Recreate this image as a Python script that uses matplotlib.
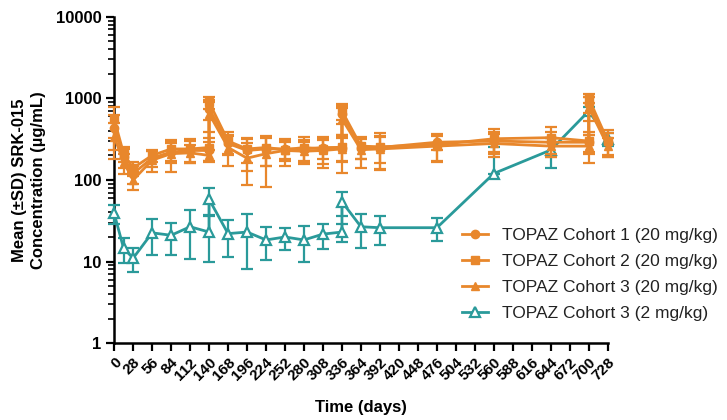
import matplotlib
matplotlib.use("Agg")
import matplotlib.pyplot as plt
import numpy as np
from matplotlib.lines import Line2D

plt.rcParams['font.family'] = ['Liberation Sans', 'DejaVu Sans']

# ---- data ----
days_orange = [0, 14, 28, 56, 84, 112, 140, 140, 168, 196, 224, 252, 280, 308,
               336, 336, 364, 392, 476, 560, 644, 700, 700, 728]
c1_mean = [430, 190, 120, 185, 220, 230, 230, 750, 280, 230, 240, 240, 240, 250,
           250, 650, 250, 250, 290, 300, 290, 290, 850, 290]
c1_sd = [200, 50, 30, 40, 60, 70, 60, 200, 80, 100, 90, 60, 70, 70,
         80, 160, 70, 90, 60, 90, 100, 70, 180, 90]
c2_mean = [560, 210, 140, 200, 240, 240, 250, 900, 300, 240, 250, 235, 250, 240,
           255, 700, 260, 255, 270, 320, 330, 300, 1000, 300]
c2_sd = [230, 45, 28, 35, 70, 80, 80, 150, 90, 80, 100, 85, 90, 100,
         90, 150, 80, 120, 100, 100, 120, 90, 130, 110]
c3_mean = [340, 165, 100, 175, 210, 215, 200, 650, 250, 185, 210, 230, 225, 230,
           240, 560, 235, 240, 260, 280, 260, 260, 780, 260]
c3_sd = [160, 45, 25, 50, 85, 50, 35, 260, 100, 98, 127, 60, 70, 75,
         118, 200, 95, 107, 92, 90, 70, 100, 250, 70]

days_teal = [0, 14, 28, 56, 84, 112, 140, 140, 168, 196, 224, 252, 280, 308,
             336, 336, 364, 392, 476, 560, 644, 700, 728]
t_mean = [39, 14.5, 11, 22.5, 21, 26.7, 23, 58, 22, 23, 18.4, 20, 18.4, 21.7,
          23, 54, 26.7, 26, 26, 120, 233, 700, 320]
t_sd = [10, 4.8, 3.5, 10.5, 9, 16, 13, 21, 10.5, 15, 8, 6, 8.5, 7.5,
        5.5, 18, 12, 10, 8, 136, 93, 80, 60]

x_ticks = list(range(0, 729, 28))
y_ticks = [1, 10, 100, 1000, 10000]
labels = ["TOPAZ Cohort 1 (20 mg/kg)", "TOPAZ Cohort 2 (20 mg/kg)",
          "TOPAZ Cohort 3 (20 mg/kg)", "TOPAZ Cohort 3 (2 mg/kg)"]

ORANGE = '#E8872C'
TEAL = '#2A9A9A'

fig = plt.figure(figsize=(7.27, 4.2), dpi=100)
ax = fig.add_axes([0.157, 0.183, 0.679, 0.777])


def yerr_of(mean, sd):
    m = np.array(mean, float)
    s = np.array(sd, float)
    low = np.where(m - s > 0, s, 0.0)
    return np.vstack([low, s])


# teal first
ax.errorbar(days_teal, t_mean, yerr=yerr_of(t_mean, t_sd), color=TEAL, lw=2,
            marker='^', ms=7, mfc='white', mec=TEAL, mew=1.6, capsize=4,
            elinewidth=1.6, capthick=1.6, clip_on=False, zorder=3)

for mean, sd, mk, ms in [(c3_mean, c3_sd, '^', 6), (c1_mean, c1_sd, 'o', 6),
                         (c2_mean, c2_sd, 's', 6)]:
    ax.errorbar(days_orange, mean, yerr=yerr_of(mean, sd), color=ORANGE, lw=2,
                marker=mk, ms=ms, mfc=ORANGE, mec=ORANGE, capsize=4,
                elinewidth=1.6, capthick=1.6, clip_on=False, zorder=4)

ax.set_yscale('log')
ax.set_ylim(1, 10000)
ax.set_xlim(0, 728)
ax.set_yticks(y_ticks)
ax.set_yticklabels([str(v) for v in y_ticks], fontweight='bold', fontsize=12)
ax.set_xticks(x_ticks)
ax.set_xticklabels([str(v) for v in x_ticks], rotation=45, ha='right',
                   rotation_mode='anchor', fontweight='bold', fontsize=11)
ax.tick_params(axis='both', which='major', length=6, width=1.6, color='black', pad=3)
ax.tick_params(axis='y', which='minor', length=4, width=1.2)
ax.yaxis.set_minor_locator(matplotlib.ticker.LogLocator(base=10, subs=np.arange(2, 10)))
ax.yaxis.set_minor_formatter(matplotlib.ticker.NullFormatter())

for s in ['top', 'right']:
    ax.spines[s].set_visible(False)
for s in ['left', 'bottom']:
    ax.spines[s].set_linewidth(1.8)

fig.text(0.04, 0.571, "Mean (\u00b1SD) SRK-015\nConcentration (\u00b5g/mL)",
         rotation=90, ha='center', va='center', multialignment='center',
         fontweight='bold', fontsize=12, linespacing=1.3)
fig.text(0.497, 0.029, "Time (days)", ha='center', va='center',
         fontweight='bold', fontsize=12)

handles = [
    Line2D([], [], color=ORANGE, lw=2, marker='o', ms=6, mfc=ORANGE, mec=ORANGE),
    Line2D([], [], color=ORANGE, lw=2, marker='s', ms=6, mfc=ORANGE, mec=ORANGE),
    Line2D([], [], color=ORANGE, lw=2, marker='^', ms=6, mfc=ORANGE, mec=ORANGE),
    Line2D([], [], color=TEAL, lw=2, marker='^', ms=7, mfc='white', mec=TEAL, mew=1.6),
]
fig.legend(handles, labels, loc='center left', bbox_to_anchor=(462 / 727, 0.346),
           frameon=False, fontsize=12.5, handlelength=1.5, handletextpad=0.8,
           labelspacing=0.62, borderpad=0, borderaxespad=0, labelcolor='#222222')

fig.savefig('out.png', dpi=100)
